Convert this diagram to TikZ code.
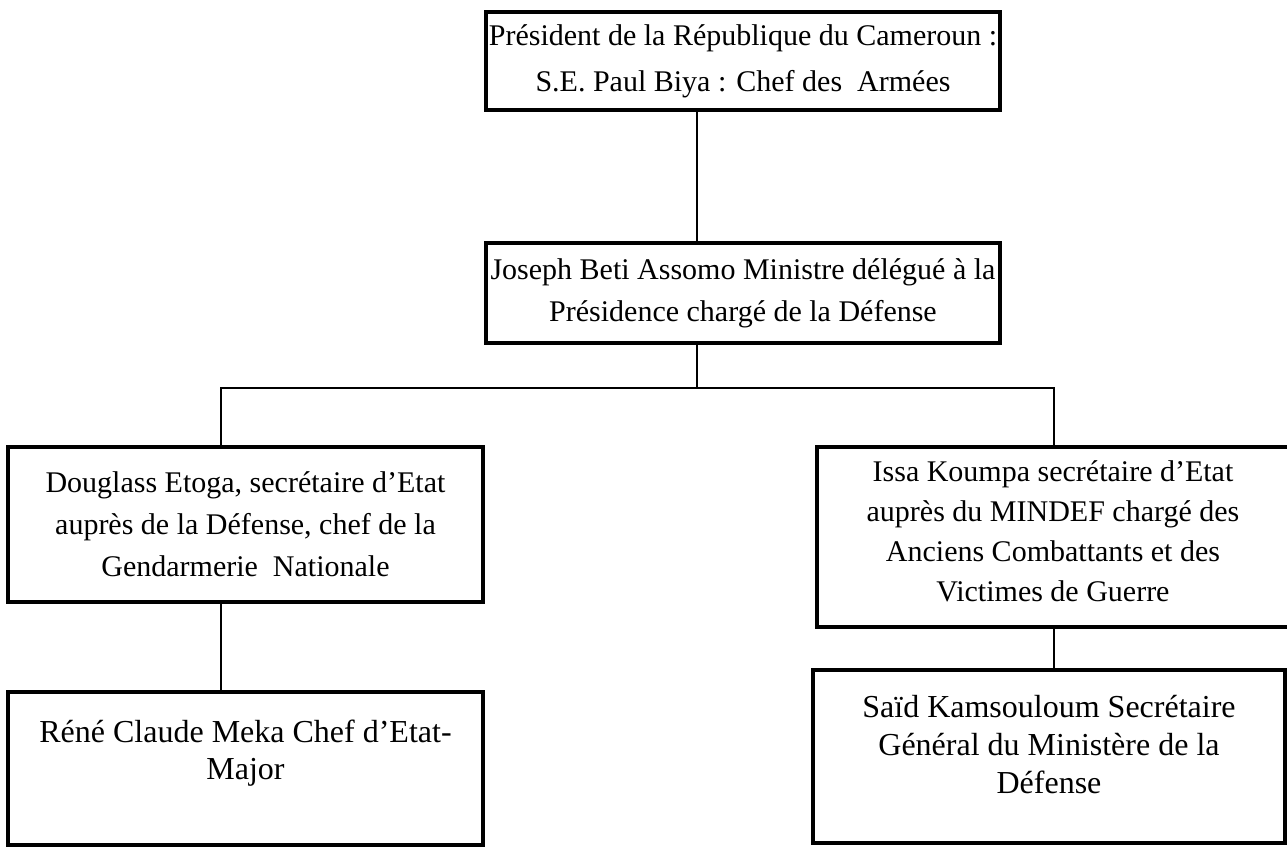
\documentclass[tikz,border=0pt]{standalone}
\usepackage{fontspec}
\setmainfont{Liberation Serif}
\newcommand{\orgfont}{\fontsize{30}{42}\selectfont}
\newcommand{\orgfontlow}{\fontsize{32}{37}\selectfont}
\tikzset{
  orgbox/.style={draw, line width=4.5pt, align=center, inner sep=0pt, font=\orgfont},
  link/.style={line width=2pt},
}
\begin{document}
\begin{tikzpicture}[x=1pt,y=-1pt,line join=miter]
	\useasboundingbox (0,0) rectangle (1287,846);
	% boxes
	\node[orgbox, font=\fontsize{30}{46}\selectfont, minimum width=514pt, minimum height=98pt] (pres) at (743,61)
		{Président de la République du Cameroun :\\S.E. Paul Biya : Chef des\ \ Armées};
	\node[orgbox, minimum width=514pt, minimum height=100pt] (mindef) at (743,293)
		{Joseph Beti Assomo Ministre délégué à la\\Présidence chargé de la Défense};
	\node[orgbox, minimum width=475pt, minimum height=155pt] (etoga) at (245.5,524.5)
		{Douglass Etoga, secrétaire d’Etat\\auprès de la Défense, chef de la\\Gendarmerie\ \ Nationale};
	\node[orgbox, font=\orgfontlow, minimum width=475pt, minimum height=153pt] (meka) at (245.5,768.5)
		{Réné Claude Meka Chef d’Etat-\\Major\\~};
	\node[orgbox, font=\fontsize{30}{40}\selectfont, minimum width=472pt, minimum height=180pt] (koumpa) at (1053,537)
		{Issa Koumpa secrétaire d’Etat\\auprès du MINDEF chargé des\\Anciens Combattants et des\\Victimes de Guerre\\[-28pt]~};
	\node[orgbox, font=\fontsize{32}{38}\selectfont, minimum width=472pt, minimum height=173pt] (kamsou) at (1049,756.5)
		{Saïd Kamsouloum Secrétaire\\Général du Ministère de la\\Défense\\[-14pt]~};
	% connectors
	\coordinate (spine) at (697,388);
	\coordinate (lbar) at (221,388);
	\coordinate (rbar) at (1054,388);
	\draw[link] (pres.south -| spine) -- (mindef.north -| spine);
	\draw[link] (mindef.south -| spine) -- (spine);
	\draw[link] (etoga.north -| lbar) -- (lbar) -- (rbar) -- (koumpa.north -| rbar);
	\draw[link] (etoga.south -| lbar) -- (meka.north -| lbar);
	\draw[link] (koumpa.south -| rbar) -- (kamsou.north -| rbar);
\end{tikzpicture}
\end{document}
